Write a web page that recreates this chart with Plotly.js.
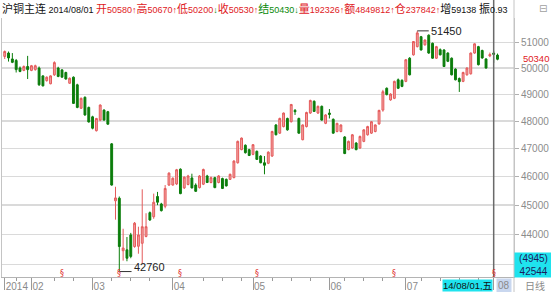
<!DOCTYPE html>
<html><head><meta charset="utf-8">
<script src="https://cdn.plot.ly/plotly-3.0.1.min.js"></script>
<style>html,body{margin:0;padding:0;background:#fff;}#chart{width:551px;height:292px;}</style>
</head><body><div id="chart"></div>
<script>
const dates = [
'2014-01-22','2014-01-23','2014-01-24','2014-01-27','2014-01-28','2014-01-29','2014-01-30',
'2014-02-07','2014-02-10','2014-02-11','2014-02-12','2014-02-13','2014-02-14','2014-02-17','2014-02-18','2014-02-19','2014-02-20','2014-02-21','2014-02-24','2014-02-25','2014-02-26','2014-02-27','2014-02-28',
'2014-03-03','2014-03-04','2014-03-05','2014-03-06','2014-03-07','2014-03-10','2014-03-11','2014-03-12','2014-03-13','2014-03-14','2014-03-17','2014-03-18','2014-03-19','2014-03-20','2014-03-21','2014-03-24','2014-03-25','2014-03-26','2014-03-27','2014-03-28','2014-03-31',
'2014-04-01','2014-04-02','2014-04-03','2014-04-04','2014-04-08','2014-04-09','2014-04-10','2014-04-11','2014-04-14','2014-04-15','2014-04-16','2014-04-17','2014-04-18','2014-04-21','2014-04-22','2014-04-23','2014-04-24','2014-04-25','2014-04-28','2014-04-29','2014-04-30',
'2014-05-05','2014-05-06','2014-05-07','2014-05-08','2014-05-09','2014-05-12','2014-05-13','2014-05-14','2014-05-15','2014-05-16','2014-05-19','2014-05-20','2014-05-21','2014-05-22','2014-05-23','2014-05-26','2014-05-27','2014-05-28','2014-05-29','2014-05-30',
'2014-06-03','2014-06-04','2014-06-05','2014-06-06','2014-06-09','2014-06-10','2014-06-11','2014-06-12','2014-06-13','2014-06-16','2014-06-17','2014-06-18','2014-06-19','2014-06-20','2014-06-23','2014-06-24','2014-06-25','2014-06-26','2014-06-27','2014-06-30',
'2014-07-01','2014-07-02','2014-07-03','2014-07-04','2014-07-07','2014-07-08','2014-07-09','2014-07-10','2014-07-11','2014-07-14','2014-07-15','2014-07-16','2014-07-17','2014-07-18','2014-07-21','2014-07-22','2014-07-23','2014-07-24','2014-07-25','2014-07-28','2014-07-29','2014-07-30','2014-07-31',
'2014-08-01','2014-08-04'];

const openP = [
50450,50580,50350,50290,50000,49910,50060,49910,49940,50000,
49700,49520,49400,49740,50000,49930,49830,49420,49650,49360,
48480,48890,48510,48160,47650,48040,48410,48350,47170,45150,
45240,43450,43480,43980,43590,43600,43700,43930,44740,44600,
45300,45040,44960,45700,45700,45740,46260,45600,45720,45950,
45700,45610,45730,46020,45790,45960,45790,45930,45900,45900,
45960,46490,46960,47120,46960,46790,46900,46730,46490,46470,
46730,47860,47560,47800,48100,47980,48400,48100,47320,47800,
48300,48740,48300,48550,47920,48300,48070,47620,47620,47420,
46960,47020,47200,47020,47260,47500,47560,47620,47900,48410,
49230,48790,48850,49550,49530,49490,50380,50510,50830,51220,
50900,51280,50960,50380,50710,50700,50580,50380,49960,49600,
49490,49740,49780,50580,50830,50680,50350,50470,50580,50500];

const highP = [
50680,50640,50580,50350,50060,50100,50470,50120,50130,50060,
49720,49680,49720,50260,50050,49960,49860,49640,49680,49400,
48880,48920,48540,48200,48120,48620,48440,48380,47200,45640,
45300,44190,43910,44050,44420,44260,45550,44720,44780,45400,
45460,45080,45700,46150,45970,46270,46290,46000,46060,46100,
45760,46050,46280,46060,46000,45990,46050,45960,45930,46100,
46580,47290,47400,47150,46990,47160,46930,46760,46730,46900,
47650,47890,48130,48320,48130,48640,48450,48130,47880,48350,
48800,48770,48580,48580,48260,48450,48100,47940,47880,47450,
47290,47530,47230,47470,47700,47830,48000,47880,48420,49170,
49260,49040,49520,49600,49570,50350,50420,51050,51450,51250,
51110,51310,50990,50860,50760,50730,50610,50410,49990,49640,
49860,50030,50600,50960,50860,50710,50380,50600,50670,50560];

const lowP = [
50350,50250,50190,49830,49840,49880,49580,49880,49900,49320,
49300,49480,49380,49700,49650,49640,49560,49400,48640,48480,
48450,48200,47950,47700,47620,48000,48020,47870,45680,44500,
42760,43120,43100,43200,43550,43350,43030,43900,44460,44530,
45000,44780,44890,45670,45680,45700,45380,45560,45690,45580,
45460,45580,45700,45770,45760,45590,45760,45560,45650,45880,
45940,46460,46940,46820,46730,46760,46590,46470,46080,46440,
46700,47480,47530,47770,47650,47950,48230,47540,47300,47770,
48270,48340,48270,48020,47890,48100,47540,47590,47590,46800,
46940,46990,46940,46990,47230,47470,47530,47590,47870,48350,
48960,48760,48820,49200,49270,49460,49720,50480,50800,50680,
50870,50550,50360,50350,50490,50040,50230,49720,49530,49090,
49460,49710,49750,50550,50100,50360,49980,50420,50200,50300];

const closeP = [
50640,50390,50220,49940,49870,50060,49940,50090,50090,49360,
49320,49650,49700,50210,49680,49650,49580,49610,48660,48510,
48850,48230,47970,47740,48100,48600,48040,47890,45700,45250,
43590,43540,43200,43260,44380,43980,44260,44260,44490,45100,
45100,44810,45580,46120,45940,46240,45400,45980,46020,45600,
45480,46020,46250,45790,45960,45610,46020,45580,45670,46080,
46550,47260,47380,46850,46750,47140,46610,46490,46400,46870,
47620,47500,48100,48300,47680,48620,48350,47560,47860,48320,
48770,48360,48550,48040,48230,48250,47560,47920,47860,46820,
47260,47500,46960,47440,47680,47800,47980,47860,48400,49100,
48990,49010,49490,49230,49300,50320,49740,51030,51370,50700,
51090,50580,50380,50830,50510,50060,50260,49740,49550,49480,
49830,50000,50580,50940,50130,50390,50000,50520,50530,50340];

const monthLabels = ['2014','02','03','04','05','06','07','08'];
const yTicks = [43000,44000,45000,46000,47000,48000,49000,50000,51000];
const yTickText = ['','44000','45000','46000','47000','48000','49000','50000','51000'];
const eventIdx = [15,30,46,66,102,128];
const cursorIdx = 128;
const cursorBox = ['(4945)','42544'];
const headerName = '沪铜主连';
const headerLabels = ['开','高','低','收','结','量','额','仓','增','振'];
const headerValues = ['50580','50670','50200','50530','50430','192326','4849812','237842','59138','0.93'];
const headerArrows = ['↑','↑','↓','↑','↓','↑','↑','↑','',''];
const headerColors = ['r','r','r','r','g','r','r','r','k','k'];
const arrowColors  = ['r','r','g','r','g','r','r','r','k','k'];
const weekNames = ['日','一','二','三','四','五','六'];

const W=551,H=292,L=2,R=37,T=18,B=15;
const PW=W-L-R, PH=H-T-B;
const yLo=4.62922, yHi=4.71568;
const px = x => (x-L)/PW;
const py = y => (H-B-y)/PH;
const pv = v => (Math.log10(v)-yLo)/(yHi-yLo);
const COL = {r:'#e0201e', g:'#0a8a0a', k:'#111'};

const idx = dates.map((d,i)=>i);
const tickIdx = [];
dates.forEach((d,i)=>{ if(i===0 || d.slice(5,7)!==dates[i-1].slice(5,7)) tickIdx.push(i); });
const tickText = monthLabels.map((m,k)=> k===monthLabels.length-1 ? '' : m);
const minorIdx = [];
dates.forEach((d,i)=>{
  const wd = new Date(d+'T00:00:00Z').getUTCDay();
  if(wd===1 && tickIdx.every(t=>Math.abs(t-i)>2)) minorIdx.push(i);
});

const trace = {
  type:'candlestick', x:idx, open:openP, high:highP, low:lowP, close:closeP,
  increasing:{line:{color:'#e45a5a', width:1}, fillcolor:'#f3a2a2'},
  decreasing:{line:{color:'#0b7d0b', width:1}, fillcolor:'#0b7d0b'},
  whiskerwidth:0, hoverinfo:'skip', showlegend:false
};

let hdr = '<span style="font-size:11px">'+headerName+'</span> '+dates[cursorIdx].replace(/-/g,'/')+' ';
headerLabels.forEach((lab,k)=>{
  hdr += '<span style="fill:'+COL[headerColors[k]]+'"><span style="font-size:11px">'+lab+'</span>'+headerValues[k]+'</span>';
  if(headerArrows[k]) hdr += '<span style="fill:'+COL[arrowColors[k]]+'">'+headerArrows[k]+'</span>';
  if(k===8) hdr += ' ';
});

const FONT = 'Liberation Sans, Arial, Noto Sans CJK SC, sans-serif';
const iMax = highP.indexOf(Math.max(...highP));
const iMin = lowP.indexOf(Math.min(...lowP));
const cd = dates[cursorIdx];
const cdObj = new Date(cd+'T00:00:00Z');
const cursorLabel = cd.slice(2).replace(/-/g,'/')+','+weekNames[cdObj.getUTCDay()];

const annotations = [
  {xref:'paper', yref:'paper', x:px(0), y:py(8), xanchor:'left', yanchor:'middle', showarrow:false,
   text:hdr, font:{family:FONT, size:9, color:'#111'}},
  {xref:'paper', yref:'paper', x:px(543), y:py(8), xanchor:'center', yanchor:'middle', showarrow:false,
   text:'⊟', font:{family:'DejaVu Sans', size:10, color:'#a0a0a0'}},
  {xref:'paper', yref:'paper', x:px(521), y:pv(closeP[closeP.length-1]), yshift:1, xanchor:'left', yanchor:'middle', showarrow:false,
   text:String(closeP[closeP.length-1]), font:{family:FONT, size:9.5, color:'#e0201e'}},
  {xref:'paper', yref:'paper', x:px(514), y:py(265), xanchor:'left', yanchor:'middle', showarrow:false,
   width:37, height:24, borderpad:0, bgcolor:'#1fe3ee', text:cursorBox.join('<br>'),
   font:{family:FONT, size:10, color:'#1c1c5c'}},
  {xref:'x', yref:'paper', x:cursorIdx, y:py(285), xanchor:'right', yanchor:'middle', showarrow:false,
   borderpad:0, bgcolor:'#1fe3ee', text:cursorLabel, font:{family:FONT, size:9.5, color:'#111'}, xshift:-1},
  {xref:'paper', yref:'paper', x:px(496), y:py(285), xanchor:'left', yanchor:'middle', showarrow:false,
   borderpad:1, bgcolor:'#c9d7ef', text:monthLabels[monthLabels.length-1], font:{family:FONT, size:10, color:'#8a8a8a'}},
  {xref:'paper', yref:'paper', x:px(523), y:py(285), xanchor:'left', yanchor:'middle', showarrow:false,
   text:'日线', font:{family:'Noto Sans CJK SC', size:10, color:'#8a8a8a'}},
  {xref:'x', yref:'paper', x:iMax+3.1, y:pv(highP[iMax]), xanchor:'left', yanchor:'middle', showarrow:false,
   text:String(highP[iMax]), font:{family:FONT, size:11, color:'#222'}},
  {xref:'x', yref:'paper', x:iMin+3.3, y:pv(lowP[iMin]), yshift:5, xanchor:'left', yanchor:'middle', showarrow:false,
   text:String(lowP[iMin]), font:{family:FONT, size:11, color:'#222'}}
];
eventIdx.forEach(i=>annotations.push({xref:'x', yref:'paper', x:i, y:py(273), xanchor:'center', yanchor:'middle',
  showarrow:false, text:'§', font:{family:'DejaVu Sans', size:8, color:'#e03030'}}));

const shapes = [
  {type:'line', xref:'x', yref:'paper', x0:cursorIdx, x1:cursorIdx, y0:0, y1:py(0), line:{color:'#6a6a6a', width:1.5}},
  {type:'line', xref:'paper', yref:'paper', x0:1, x1:1, y0:py(H), y1:py(0), line:{color:'#c4c4c4', width:1}},
  {type:'line', xref:'x', yref:'paper', x0:iMax, x1:iMax+3, y0:pv(highP[iMax]), y1:pv(highP[iMax]), line:{color:'#333', width:1}},
  {type:'line', xref:'x', yref:'paper', x0:iMin, x1:iMin+3.2, y0:pv(lowP[iMin]), y1:pv(lowP[iMin]), line:{color:'#333', width:1}}
];

const layout = {
  width:W, height:H, margin:{l:L, r:R, t:T, b:B, pad:0},
  paper_bgcolor:'#fff', plot_bgcolor:'#fff', showlegend:false, hovermode:false,
  font:{family:FONT},
  xaxis:{type:'linear', range:[-0.71,133.32], tickvals:tickIdx, ticktext:tickText,
    ticks:'outside', ticklen:12, tickwidth:1, tickcolor:'#9a9a9a', ticklabelposition:'outside right',
    tickfont:{family:FONT, size:10, color:'#8a8a8a'}, showgrid:false, zeroline:false,
    showline:true, linecolor:'#b4b4b4', linewidth:1, rangeslider:{visible:false}, fixedrange:true,
    minor:{tickvals:minorIdx, ticks:'outside', ticklen:3, tickcolor:'#9a9a9a', showgrid:false}},
  yaxis:{type:'log', side:'right', range:[yLo,yHi], tickvals:yTicks, ticktext:yTickText,
    ticks:'outside', ticklen:4, tickcolor:'#b0b0b0', tickfont:{family:FONT, size:10, color:'#8c8c8c'},
    showgrid:true, gridcolor:'#dadada', gridwidth:1.5, zeroline:false, showline:true, linecolor:'#c4c4c4',
    mirror:true, fixedrange:true},
  annotations:annotations, shapes:shapes
};
Plotly.newPlot('chart',[trace],layout,{displayModeBar:false, staticPlot:true});
</script></body></html>
